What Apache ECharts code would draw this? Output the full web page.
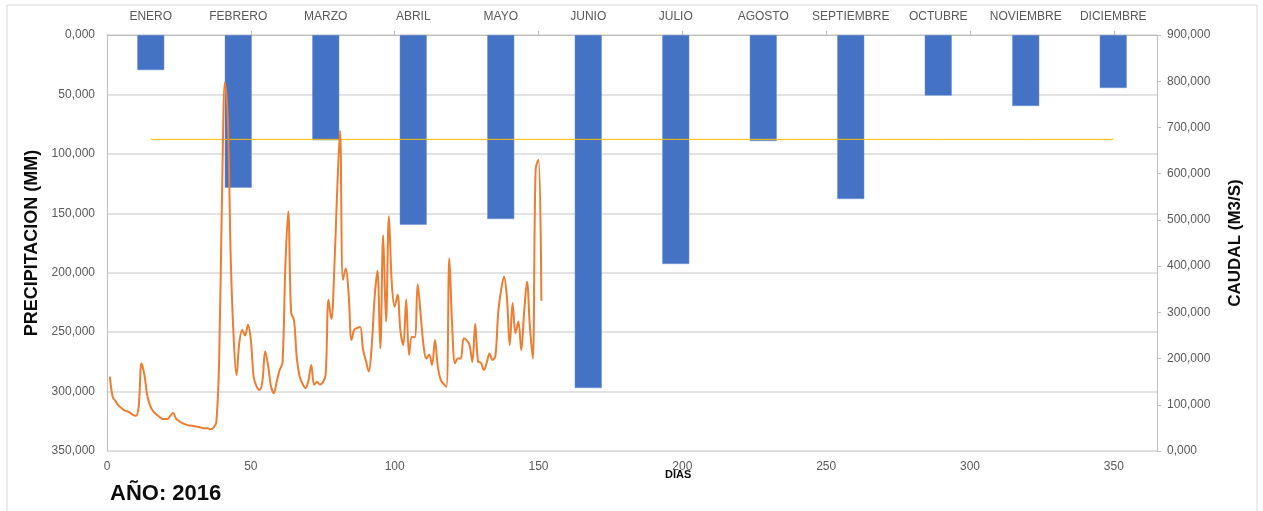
<!DOCTYPE html>
<html>
<head>
<meta charset="utf-8">
<script src="https://cdn.jsdelivr.net/npm/echarts@6/dist/echarts.min.js"></script>
<style>
html,body{margin:0;padding:0;background:#fff;}
#chart{width:1263px;height:511px;}
</style>
</head>
<body>
<div id="chart"></div>
<script>
// ---- DATA ----
const months = ['ENERO','FEBRERO','MARZO','ABRIL','MAYO','JUNIO','JULIO','AGOSTO','SEPTIEMBRE','OCTUBRE','NOVIEMBRE','DICIEMBRE'];
const precipitacion = [29.5, 128.5, 88.6, 159.6, 154.8, 297.0, 192.7, 89.2, 138.0, 51.0, 59.7, 44.6];
const referencia = [87.8, 87.8, 87.8, 87.8, 87.8, 87.8, 87.8, 87.8, 87.8, 87.8, 87.8, 87.8];
// daily flow (m3/s), days 1..151
const caudal = [
  161,117,108,98,93,88,86,83,78,76,
  95,190,165,120,98,86,80,75,70,69,
  69,76,82,70,65,61,58,56,55,54,
  53,52,50,49,49,47,50,62,200,560,
  798,720,420,250,164,235,262,250,273,240,
  160,140,132,150,216,185,140,125,150,175,
  190,400,518,300,283,200,160,145,136,152,
  186,143,150,144,148,165,327,285,392,560,
  693,370,395,340,240,263,266,268,220,195,
  172,225,330,390,222,467,280,508,363,312,
  338,260,229,328,208,247,246,361,298,230,
  200,208,186,240,182,154,145,139,417,269,
  190,200,200,244,240,230,193,275,193,191,
  175,191,211,197,205,300,348,377,334,229,
  320,255,280,218,300,366,269,200,610,630,
  325
];
const diasTicks = [0,50,100,150,200,250,300,350];
const anio = 'AÑO: 2016';

// ---- CHART ----
const fmt = v => v.toFixed(3).replace('.', ',');
const FONT = 'Liberation Sans';
const chart = echarts.init(document.getElementById('chart'), null, {renderer: 'canvas'});
const lineData = caudal.map((v, i) => [i + 1, v]);

chart.setOption({
  animation: false,
  textStyle: {fontFamily: FONT},
  grid: {left: 107, right: 106, top: 35, bottom: 60, containLabel: false, outerBoundsMode: 'none'},
  graphic: [
    {type: 'rect', shape: {x: 7, y: 5, width: 1250, height: 520}, style: {fill: 'none', stroke: '#d9d9d9', lineWidth: 1}, silent: true, z: -10},
    {type: 'text', left: 110, top: 483, style: {text: anio, font: 'bold 22px ' + FONT, fill: '#0d0d0d'}},
    {type: 'text', left: 665, top: 469, style: {text: 'DIAS', font: 'bold 11px ' + FONT, fill: '#0d0d0d'}}
  ],
  xAxis: [
    {
      type: 'category', position: 'top', data: months, boundaryGap: true,
      axisLine: {show: false, onZero: false}, axisTick: {show: false}, splitLine: {show: false},
      axisLabel: {color: '#595959', fontSize: 12, margin: 12, interval: 0}
    },
    {
      type: 'value', position: 'bottom', min: 0, max: 365, interval: 50,
      axisLine: {show: true, onZero: false, lineStyle: {color: '#d9d9d9'}}, axisTick: {show: false},
      splitLine: {show: false},
      axisLabel: {color: '#595959', fontSize: 12, margin: 10, customValues: diasTicks}
    },
    {
      type: 'value', position: 'top', min: 0, max: 365, interval: 50,
      axisLine: {show: true, onZero: false, lineStyle: {color: '#bfbfbf'}},
      axisTick: {show: true, length: 4, lineStyle: {color: '#bfbfbf'}, customValues: [50,100,150,200,250,300,350]},
      axisLabel: {show: false}, splitLine: {show: false}
    }
  ],
  yAxis: [
    {
      type: 'value', position: 'left', inverse: true, min: 0, max: 350, interval: 50,
      name: 'PRECIPITACION (MM)', nameLocation: 'middle', nameGap: 66, nameRotate: 90,
      nameTextStyle: {fontSize: 18, fontWeight: 'bold', color: '#0d0d0d'},
      axisLine: {show: true, onZero: false, lineStyle: {color: '#bfbfbf'}}, axisTick: {show: false},
      splitLine: {show: true, lineStyle: {color: '#d9d9d9', width: 1.5}},
      axisLabel: {color: '#595959', fontSize: 12, margin: 12, formatter: fmt}
    },
    {
      type: 'value', position: 'right', min: 0, max: 900, interval: 100,
      name: 'CAUDAL (M3/S)', nameLocation: 'middle', nameGap: 70, nameRotate: 90,
      nameTextStyle: {fontSize: 17, fontWeight: 'bold', color: '#0d0d0d'},
      axisLine: {show: true, onZero: false, lineStyle: {color: '#bfbfbf'}},
      axisTick: {show: true, length: 4, lineStyle: {color: '#bfbfbf'}},
      splitLine: {show: false},
      axisLabel: {color: '#595959', fontSize: 12, margin: 10, formatter: fmt}
    }
  ],
  series: [
    {
      name: 'Precipitación', type: 'bar', xAxisIndex: 0, yAxisIndex: 0,
      data: precipitacion, barWidth: 27,
      itemStyle: {color: '#4472C4', borderColor: '#6d93d6', borderWidth: 0.5}
    },
    {
      name: 'Referencia', type: 'line', xAxisIndex: 0, yAxisIndex: 0,
      data: referencia, symbol: 'none', lineStyle: {color: '#FFC000', width: 1}, z: 3
    },
    {
      name: 'Caudal', type: 'line', xAxisIndex: 1, yAxisIndex: 1,
      data: lineData, symbol: 'none', smooth: 0.35,
      lineStyle: {color: '#ED7D31', width: 2}, z: 4
    }
  ]
});
</script>
</body>
</html>
